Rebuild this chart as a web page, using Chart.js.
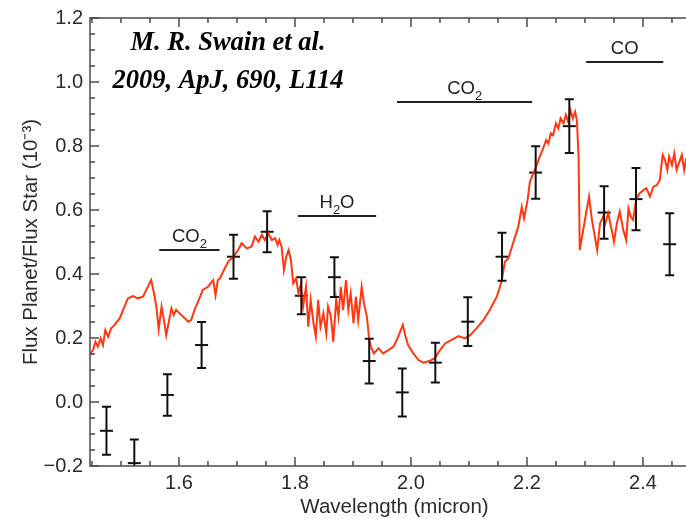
<!DOCTYPE html>
<html>
<head>
<meta charset="utf-8">
<script src="https://cdn.jsdelivr.net/npm/chart.js@4.4.1/dist/chart.umd.min.js"></script>
<style>
  html, body { margin: 0; padding: 0; background: #fff; overflow: hidden; }
</style>
</head>
<body>
<canvas id="spectrum" width="700" height="519"></canvas>
<script>
// model spectrum (red line), wavelength in micron
const modelWave = [1.446,1.452,1.456,1.460,1.465,1.469,1.473,1.478,1.483,1.489,1.498,1.506,1.512,1.521,1.529,1.538,1.545,1.552,1.557,1.561,1.565,1.570,1.574,1.578,1.582,1.587,1.591,1.595,1.601,1.610,1.616,1.621,1.627,1.633,1.641,1.650,1.659,1.663,1.667,
  1.671,1.676,1.685,1.694,1.702,1.708,1.717,1.725,1.731,1.737,1.743,1.748,1.754,1.760,1.766,1.770,1.773,1.777,1.781,1.785,1.789,1.793,1.797,1.802,1.806,1.810,1.814,1.819,1.823,1.827,1.832,1.836,1.840,1.844,1.849,1.854,1.857,1.862,1.866,1.871,1.875,1.879,1.883,1.888,1.892,1.896,1.901,1.905,1.909,1.915,1.919,1.924,1.928,1.932,1.936,1.944,
  1.947,1.952,1.961,1.970,1.978,1.986,1.990,1.995,2.004,2.013,2.021,2.033,2.041,2.050,2.059,2.070,2.082,2.093,2.102,2.113,2.125,2.136,2.148,2.156,2.162,2.168,2.176,2.185,2.191,2.195,2.201,2.205,2.211,2.217,2.222,2.228,2.233,2.237,2.241,2.245,2.250,2.254,2.258,2.263,2.267,2.271,2.275,2.279,2.283,2.286,2.289,
  2.291,2.296,2.302,2.307,2.312,2.317,2.321,2.326,2.331,2.335,2.340,2.346,2.350,2.355,2.360,2.366,2.371,2.375,2.379,2.383,2.388,2.394,2.401,2.406,2.412,2.418,2.424,2.429,2.434,2.438,2.442,2.445,2.450,2.454,2.458,2.463,2.467,2.471,2.474,2.479,2.484,2.489,2.496];
const modelFlux = [0.147,0.163,0.188,0.173,0.199,0.178,0.225,0.204,0.230,0.241,0.262,0.298,0.324,0.331,0.324,0.329,0.355,0.381,0.340,0.298,0.227,0.298,0.256,0.209,0.246,0.293,0.272,0.288,0.277,0.262,0.251,0.256,0.288,0.314,0.350,0.360,0.381,0.334,0.381,
  0.387,0.407,0.439,0.454,0.475,0.496,0.480,0.485,0.517,0.501,0.522,0.506,0.527,0.506,0.512,0.491,0.506,0.485,0.412,0.454,0.475,0.444,0.371,0.387,0.340,0.366,0.298,0.360,0.235,0.319,0.246,0.204,0.319,0.235,0.277,0.215,0.298,0.267,0.188,0.319,0.267,0.360,0.288,0.381,0.288,0.340,0.246,0.329,0.256,0.360,0.308,0.267,0.194,0.168,0.152,0.168,
  0.162,0.152,0.162,0.173,0.204,0.241,0.209,0.178,0.152,0.131,0.123,0.129,0.137,0.162,0.183,0.194,0.206,0.199,0.209,0.230,0.256,0.288,0.329,0.376,0.438,0.449,0.496,0.548,0.610,0.574,0.631,0.688,0.715,0.741,0.767,0.793,0.819,0.808,0.840,0.834,0.871,0.855,0.886,0.871,0.897,0.876,0.912,0.886,0.907,0.881,0.767,
  0.475,0.527,0.590,0.642,0.569,0.517,0.475,0.558,0.579,0.558,0.590,0.538,0.501,0.558,0.595,0.538,0.506,0.605,0.579,0.569,0.631,0.652,0.662,0.668,0.642,0.673,0.678,0.694,0.772,0.756,0.725,0.767,0.741,0.777,0.725,0.751,0.772,0.725,0.756,0.740,0.768,0.745,0.760];

// observed points with 1-sigma errors
const obsWave = [1.475,1.523,1.580,1.639,1.694,1.752,1.811,1.868,1.928,1.985,2.042,2.098,2.157,2.215,2.273,2.333,2.388,2.446];
const obsFlux = [-0.090,-0.191,0.022,0.178,0.454,0.532,0.332,0.390,0.128,0.030,0.123,0.251,0.454,0.717,0.862,0.592,0.634,0.493];
const obsErr  = [0.075,0.074,0.065,0.072,0.069,0.064,0.058,0.062,0.070,0.075,0.062,0.076,0.075,0.082,0.084,0.082,0.097,0.097];

// molecular band markers
const bandLabel = ['CO_2','H_2O','CO_2','CO'];
const bandStart = [1.566,1.805,1.976,2.302];
const bandEnd   = [1.670,1.940,2.209,2.435];
const bandLevel = [0.475,0.581,0.9375,1.0625];

const xTicks = [1.6,1.8,2.0,2.2,2.4];
const yTicks = [-0.2,0.0,0.2,0.4,0.6,0.8,1.0,1.2];
const xMin = 1.4466, xMax = 2.4966;
const yMin = -0.2, yMax = 1.2;

const citeLines = ['M. R. Swain et al.', '2009, ApJ, 690, L114'];

Chart.defaults.font.family = '"Liberation Sans", Arial, sans-serif';
Chart.defaults.color = '#2b2b2b';

// draws text where "_x" means subscript x, centred on cx
function drawChem(ctx, text, cx, baseY, size) {
    const parts = [];
    for (let i = 0; i < text.length; i++) {
        if (text[i] === '_') { parts.push({t: text[i + 1], sub: true}); i++; }
        else parts.push({t: text[i], sub: false});
    }
    const big = size + 'px "Liberation Sans", Arial, sans-serif';
    const small = Math.round(size * 0.72) + 'px "Liberation Sans", Arial, sans-serif';
    let w = 0;
    parts.forEach(p => { ctx.font = p.sub ? small : big; p.w = ctx.measureText(p.t).width; w += p.w; });
    let x = cx - w / 2;
    ctx.textAlign = 'left';
    ctx.textBaseline = 'alphabetic';
    parts.forEach(p => {
        ctx.font = p.sub ? small : big;
        ctx.fillText(p.t, x, p.sub ? baseY + size * 0.3 : baseY);
        x += p.w;
    });
}

const decorations = {
    id: 'decorations',
    afterDatasetsDraw(chart) {
        const {ctx, chartArea: a, scales: {x, y}} = chart;
        ctx.save();

        // error bars
        ctx.beginPath();
        ctx.rect(a.left, a.top, a.right - a.left, a.bottom - a.top);
        ctx.clip();
        ctx.strokeStyle = '#111';
        ctx.lineWidth = 2;
        obsWave.forEach((w, i) => {
            const px = x.getPixelForValue(w);
            const top = y.getPixelForValue(obsFlux[i] + obsErr[i]);
            const bot = y.getPixelForValue(obsFlux[i] - obsErr[i]);
            ctx.beginPath();
            ctx.moveTo(px, top); ctx.lineTo(px, bot);
            ctx.moveTo(px - 4.5, top); ctx.lineTo(px + 4.5, top);
            ctx.moveTo(px - 4.5, bot); ctx.lineTo(px + 4.5, bot);
            ctx.stroke();
        });
        ctx.restore();

        ctx.save();
        // band labels
        ctx.fillStyle = '#222';
        bandLabel.forEach((lab, i) => {
            const cx = x.getPixelForValue((bandStart[i] + bandEnd[i]) / 2);
            drawChem(ctx, lab, cx, y.getPixelForValue(bandLevel[i]) - 8, 18.5);
        });

        // citation
        ctx.fillStyle = '#000';
        ctx.font = 'italic bold 26.5px "Liberation Serif", "Times New Roman", serif';
        ctx.textAlign = 'center';
        ctx.textBaseline = 'alphabetic';
        ctx.fillText(citeLines[0], x.getPixelForValue(1.6845), y.getPixelForValue(1.1));
        ctx.fillText(citeLines[1], x.getPixelForValue(1.6845), y.getPixelForValue(0.98125));

        // frame and inward ticks
        ctx.strokeStyle = '#4a4a4a';
        ctx.lineWidth = 1.5;
        ctx.strokeRect(a.left, a.top, a.right - a.left, a.bottom - a.top);
        ctx.beginPath();
        for (let k = Math.ceil(xMin / 0.05 - 1e-6); k * 0.05 <= xMax + 1e-6; k++) {
            const px = x.getPixelForValue(k * 0.05);
            const len = (k % 4 === 0) ? 9 : 5;
            ctx.moveTo(px, a.bottom); ctx.lineTo(px, a.bottom - len);
            ctx.moveTo(px, a.top); ctx.lineTo(px, a.top + len);
        }
        for (let k = Math.round(yMin / 0.05); k * 0.05 <= yMax + 1e-6; k++) {
            const py = y.getPixelForValue(k * 0.05);
            const len = (((k % 4) + 4) % 4 === 0) ? 9 : 5;
            ctx.moveTo(a.left, py); ctx.lineTo(a.left + len, py);
            ctx.moveTo(a.right, py); ctx.lineTo(a.right - len, py);
        }
        ctx.stroke();
        ctx.restore();
    }
};

const bandSets = bandLabel.map((lab, i) => ({
    label: lab,
    data: [{x: bandStart[i], y: bandLevel[i]}, {x: bandEnd[i], y: bandLevel[i]}],
    showLine: true,
    borderColor: '#222',
    borderWidth: 2,
    pointRadius: 0
}));

const ctx_spectrum = document.getElementById('spectrum').getContext('2d');
const spectrum = new Chart(ctx_spectrum, {
    type: 'scatter',
    data: {
        datasets: [
            {
                label: 'model',
                data: modelWave.map((w, i) => ({x: w, y: modelFlux[i]})),
                showLine: true,
                borderColor: '#ff3814',
                borderWidth: 2,
                pointRadius: 0,
                tension: 0
            },
            {
                label: 'observed',
                data: obsWave.map((w, i) => ({x: w, y: obsFlux[i]})),
                pointStyle: 'line',
                pointRadius: 6.5,
                borderColor: '#111',
                borderWidth: 2
            },
            ...bandSets
        ]
    },
    options: {
        responsive: false,
        animation: false,
        layout: { autoPadding: false, padding: { top: 18, right: 1, left: 0, bottom: 0 } },
        plugins: { legend: { display: false }, tooltip: { enabled: false } },
        scales: {
            x: {
                type: 'linear',
                min: xMin,
                max: xMax,
                afterBuildTicks: s => { s.ticks = xTicks.map(v => ({value: v})); },
                afterFit: s => { s.height = 53; s.paddingLeft = 0; s.paddingRight = 0; },
                grid: { display: false, drawTicks: false },
                border: { display: false },
                ticks: {
                    font: { size: 20 },
                    color: '#2b2b2b',
                    padding: 5,
                    maxRotation: 0,
                    autoSkip: false,
                    callback: v => v.toFixed(1)
                },
                title: {
                    display: true,
                    text: 'Wavelength (micron)',
                    font: { size: 20.5 },
                    color: '#2b2b2b',
                    padding: { top: 0, bottom: -1 }
                }
            },
            y: {
                type: 'linear',
                min: yMin,
                max: yMax,
                afterBuildTicks: s => { s.ticks = yTicks.map(v => ({value: v})); },
                afterFit: s => { s.width = 90; s.paddingTop = 0; s.paddingBottom = 0; },
                grid: { display: false, drawTicks: false },
                border: { display: false },
                ticks: {
                    font: { size: 20 },
                    color: '#2b2b2b',
                    padding: 7,
                    autoSkip: false,
                    callback: v => (v < -1e-9 ? '\u2212' : '') + Math.abs(v).toFixed(1)
                },
                title: {
                    display: true,
                    text: 'Flux Planet/Flux Star (10\u207B\u00B3)',
                    font: { size: 20.5 },
                    color: '#2b2b2b',
                    padding: { top: 19, bottom: 0 }
                }
            }
        }
    },
    plugins: [decorations]
});
</script>
</body>
</html>
